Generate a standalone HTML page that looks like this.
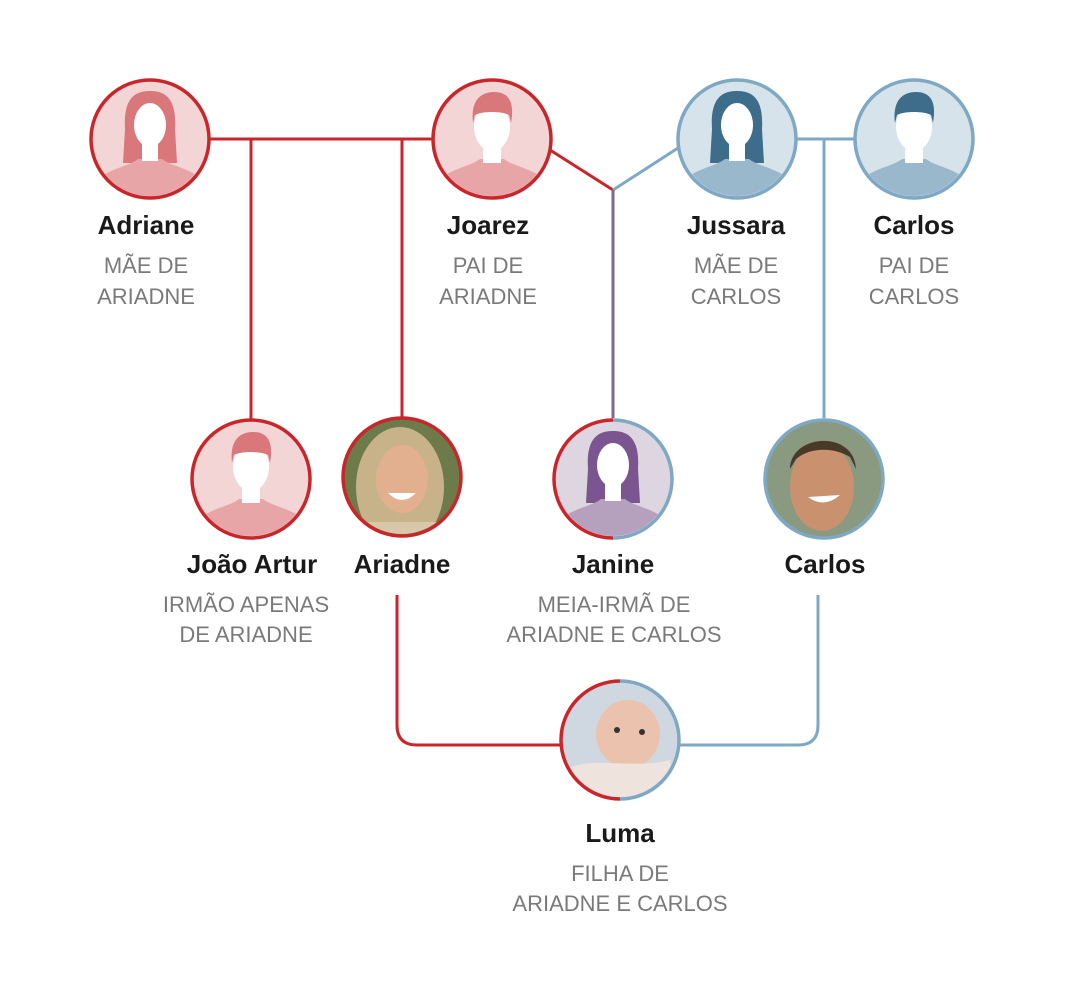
<!DOCTYPE html>
<html><head><meta charset="utf-8"><style>
html,body{margin:0;padding:0;background:#fff;}
svg{display:block;}
.n{font-family:"Liberation Sans",sans-serif;font-weight:bold;font-size:26px;fill:#1a1a1a;text-anchor:middle;}
.s{font-family:"Liberation Sans",sans-serif;font-size:22px;fill:#7a7a7a;text-anchor:middle;}
</style></head><body>
<svg width="1068" height="983" viewBox="0 0 1068 983" xmlns="http://www.w3.org/2000/svg">
<defs>
<clipPath id="cc"><circle cx="0" cy="0" r="57"/></clipPath>
<g id="fem">
 <path d="M-25,-10 C-27,-42 -14,-48 0,-48 C14,-48 27,-42 25,-10 L27,24 L-27,24 Z"/>
 <path d="M-55,44 C-45,30 -22,28 -12,20 L12,20 C22,28 45,30 55,44 L55,70 L-55,70 Z" fill="currentColor"/>
 <rect x="-8" y="0" width="16" height="22" fill="#fff"/>
 <ellipse cx="0" cy="-14" rx="16" ry="22" fill="#fff"/>
</g>
<g id="mal">
 <path d="M-55,44 C-45,30 -22,28 -12,20 L12,20 C22,28 45,30 55,44 L55,70 L-55,70 Z" fill="currentColor"/>
 <rect x="-9" y="0" width="18" height="24" fill="#fff"/>
 <ellipse cx="0" cy="-12" rx="18" ry="24" fill="#fff"/>
 <path d="M-19,-16 C-22,-42 -8,-47 2,-47 C16,-47 23,-38 19,-16 L17,-24 C10,-28 -10,-28 -17,-24 Z"/>
</g>
</defs>

<g fill="none" stroke-width="3">
 <path d="M205,139 H435" stroke="#c8262b"/>
 <path d="M251,139 V420" stroke="#c8262b"/>
 <path d="M402,139 V417" stroke="#c8262b"/>
 <path d="M550,150 L613,190" stroke="#c8262b"/>
 <path d="M678,148 L613,190" stroke="#7fa8c4"/>
 <path d="M613,190 V418" stroke="#7d6a93"/>
 <path d="M795,139 H856" stroke="#7fa8c4"/>
 <path d="M824,139 V418" stroke="#7fa8c4"/>
 <path d="M397,595 V725 Q397,745 417,745 H560" stroke="#c8262b"/>
 <path d="M818,595 V725 Q818,745 798,745 H680" stroke="#7fa8c4"/>
</g>

<g transform="translate(150,139)">
 <circle r="59" fill="#f3d5d5"/>
 <g clip-path="url(#cc)" fill="#d9777a" color="#e8a5a7"><use href="#fem"/></g>
 <circle r="59" fill="none" stroke="#c8262b" stroke-width="3.5"/>
</g>
<g transform="translate(492,139)">
 <circle r="59" fill="#f3d5d5"/>
 <g clip-path="url(#cc)" fill="#d9777a" color="#e8a5a7"><use href="#mal"/></g>
 <circle r="59" fill="none" stroke="#c8262b" stroke-width="3.5"/>
</g>
<g transform="translate(737,139)">
 <circle r="59" fill="#d6e3eb"/>
 <g clip-path="url(#cc)" fill="#3e6d8b" color="#9ab8cc"><use href="#fem"/></g>
 <circle r="59" fill="none" stroke="#7fa8c4" stroke-width="3.5"/>
</g>
<g transform="translate(914,139)">
 <circle r="59" fill="#d6e3eb"/>
 <g clip-path="url(#cc)" fill="#3e6d8b" color="#9ab8cc"><use href="#mal"/></g>
 <circle r="59" fill="none" stroke="#7fa8c4" stroke-width="3.5"/>
</g>

<g transform="translate(251,479)">
 <circle r="59" fill="#f3d5d5"/>
 <g clip-path="url(#cc)" fill="#d9777a" color="#e8a5a7"><use href="#mal"/></g>
 <circle r="59" fill="none" stroke="#c8262b" stroke-width="3.5"/>
</g>
<g transform="translate(402,477)">
 <circle r="59" fill="#6d7a4a"/>
 <g clip-path="url(#cc)">
  <ellipse cx="-2" cy="10" rx="44" ry="60" fill="#c8b28a"/>
  <ellipse cx="0" cy="2" rx="26" ry="34" fill="#e2b08f"/>
  <path d="M-14,16 Q0,30 14,16 Z" fill="#fff"/>
  <rect x="-50" y="45" width="100" height="20" fill="#d8c7a8"/>
 </g>
 <circle r="59" fill="none" stroke="#c8262b" stroke-width="3.5"/>
</g>
<g transform="translate(613,479)">
 <circle r="59" fill="#ddd5df"/>
 <g clip-path="url(#cc)" fill="#7b5590" color="#b5a0be"><use href="#fem"/></g>
 <path d="M0,-59 A59,59 0 0 0 0,59" fill="none" stroke="#c8262b" stroke-width="3.5"/>
 <path d="M0,-59 A59,59 0 0 1 0,59" fill="none" stroke="#7fa8c4" stroke-width="3.5"/>
</g>
<g transform="translate(824,479)">
 <circle r="59" fill="#8a9a80"/>
 <g clip-path="url(#cc)">
  <ellipse cx="-2" cy="8" rx="32" ry="44" fill="#c9916e"/>
  <path d="M-34,-10 C-34,-45 30,-50 32,-10 L26,-22 C10,-32 -14,-32 -28,-20 Z" fill="#4a3828"/>
  <path d="M-16,18 Q0,30 16,16 Z" fill="#fff"/>
 </g>
 <circle r="59" fill="none" stroke="#7fa8c4" stroke-width="3.5"/>
</g>

<g transform="translate(620,740)">
 <circle r="59" fill="#cfd8e0"/>
 <g clip-path="url(#cc)">
  <ellipse cx="8" cy="-6" rx="32" ry="34" fill="#ebc2ad"/>
  <path d="M-55,30 C-30,15 10,30 50,20 L60,70 L-60,70 Z" fill="#efe3de"/>
  <circle cx="-3" cy="-10" r="3" fill="#333"/><circle cx="22" cy="-8" r="3" fill="#333"/>
 </g>
 <path d="M0,-59 A59,59 0 0 0 0,59" fill="none" stroke="#c8262b" stroke-width="3.5"/>
 <path d="M0,-59 A59,59 0 0 1 0,59" fill="none" stroke="#7fa8c4" stroke-width="3.5"/>
</g>

<text class="n" x="146" y="234">Adriane</text>
<text class="s" x="146" y="273">MÃE DE</text>
<text class="s" x="146" y="304">ARIADNE</text>
<text class="n" x="488" y="234">Joarez</text>
<text class="s" x="488" y="273">PAI DE</text>
<text class="s" x="488" y="304">ARIADNE</text>
<text class="n" x="736" y="234">Jussara</text>
<text class="s" x="736" y="273">MÃE DE</text>
<text class="s" x="736" y="304">CARLOS</text>
<text class="n" x="914" y="234">Carlos</text>
<text class="s" x="914" y="273">PAI DE</text>
<text class="s" x="914" y="304">CARLOS</text>

<text class="n" x="252" y="573">João Artur</text>
<text class="s" x="246" y="612">IRMÃO APENAS</text>
<text class="s" x="246" y="642">DE ARIADNE</text>
<text class="n" x="402" y="573">Ariadne</text>
<text class="n" x="613" y="573">Janine</text>
<text class="s" x="614" y="612">MEIA-IRMÃ DE</text>
<text class="s" x="614" y="642">ARIADNE E CARLOS</text>
<text class="n" x="825" y="573">Carlos</text>

<text class="n" x="620" y="842">Luma</text>
<text class="s" x="620" y="881">FILHA DE</text>
<text class="s" x="620" y="911">ARIADNE E CARLOS</text>
</svg>
</body></html>
